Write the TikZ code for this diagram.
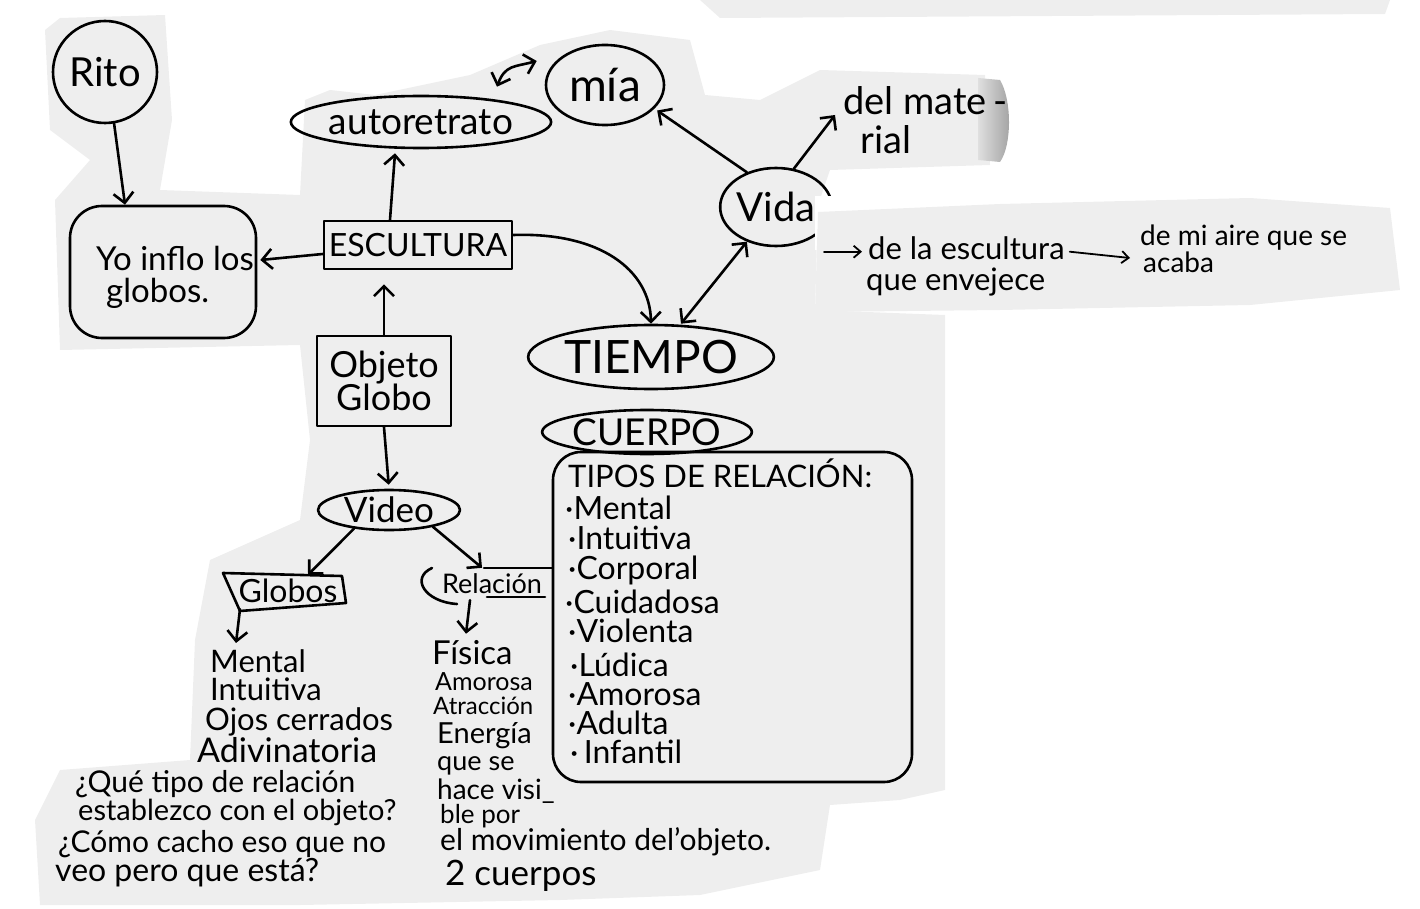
\documentclass[tikz,border=0pt]{standalone}
\usepackage{fontspec}
\setmainfont{Lato}
\usetikzlibrary{arrows.meta,shapes.geometric}
\definecolor{paper}{RGB}{238,238,238}
\begin{document}
\begin{tikzpicture}[x=1pt,y=-1pt,
 pen/.style={line width=2.6pt, line cap=round, line join=round},
 conn/.style={pen, -{Straight Barb[length=10pt,width=20pt]}},
 dconn/.style={pen, {Straight Barb[length=10pt,width=20pt]}-{Straight Barb[length=10pt,width=20pt]}},
 thinarr/.style={line width=1.8pt, line cap=round, -{Straight Barb[length=7pt,width=12pt]}},
 fs/.style={font=\fontsize{#1}{#1}\selectfont},
 t/.style={inner sep=0pt, anchor=base west, fs=#1},
 ell/.style={pen, draw, ellipse, inner sep=0pt},
 box/.style={pen, draw, rectangle, inner sep=0pt},
]
\useasboundingbox (0,0) rectangle (1420,909);
% paper
\fill[paper] (45,30) -- (60,18) -- (165,15) -- (172,120) -- (160,190) -- (300,195) -- (305,100) -- (330,90) -- (375,95) -- (470,75) -- (540,45) -- (610,30) -- (690,40) -- (705,95) -- (760,100) -- (800,80) -- (820,70) -- (985,75) -- (990,165) -- (830,170) -- (818,205) -- (815,310) -- (945,315) -- (945,790) -- (900,800) -- (830,805) -- (820,870) -- (700,895) -- (560,900) -- (300,905) -- (40,905) -- (35,820) -- (60,770) -- (190,760) -- (195,640) -- (210,560) -- (300,520) -- (310,440) -- (300,345) -- (60,350) -- (55,200) -- (90,160) -- (50,130) -- cycle;
\fill[paper] (700,0) -- (1390,0) -- (1385,14) -- (720,18) -- cycle;
\shade[left color=gray!25, right color=gray!75] (978,78) -- (1000,80) .. controls (1012,100) and (1012,145) .. (1000,162) -- (978,160) -- cycle;

% nodes
\node[ell, minimum width=104, minimum height=102, fs=40] (rito) at (105,72) {Rito};
\node[box, rounded corners=32pt, minimum width=186, minimum height=132] (yo) at (163,272) {};
\node[t=33] (yo1) at (96,270) {Yo inflo los};
\node[t=33] (yo2) at (106,302) {globos.};
\node[box, minimum width=188, minimum height=48, fs=32] (esc) at (418,245) {ESCULTURA};
\node[ell, minimum width=212, minimum height=52, fs=37] (auto) at (421,122) {autoretrato};
\node[ell, minimum width=118, minimum height=80, fs=46] (mia) at (605,85) {mía};
\node[t=38] (delmate) at (843,115) {del mate\,-};
\node[t=38] (rial) at (860,154) {rial};
\node[ell, minimum width=106, minimum height=78, fs=40] (vida) at (776,207) {Vida};
\node[ell, minimum width=198, minimum height=64, fs=46] (tiempo) at (651,357) {TIEMPO};
\node[ell, minimum width=176, minimum height=44, fs=37] (cuerpo) at (647,432) {CUERPO};
\node[box, minimum width=134, minimum height=90, align=center, fs=36] (obj) at (384,381) {Objeto\\[-3pt]Globo};
\node[ell, minimum width=142, minimum height=40, fs=35] (video) at (389,510) {Video};
\node[inner sep=0pt, minimum width=122, minimum height=36, fs=32] (globos) at (288,591) {Globos};
\node[inner sep=0pt, minimum width=110, minimum height=32, fs=27] (rel) at (492,584) {Relación};
\node[box, rounded corners=28pt, minimum width=359, minimum height=330] (tipos) at (732.5,617) {};

% strip patch
\fill[white] (815,196) rectangle (840,250);
\fill[paper] (818,212) -- (1000,204) -- (1250,198) -- (1390,208) -- (1400,290) -- (1250,305) -- (1000,310) -- (815,312) -- cycle;
\node[t=31] (dela) at (868,259) {de la escultura};
\node[t=31] (env) at (866,290) {que envejece};
\node[t=28] (demi) at (1140,246) {de mi aire que se};
\node[t=28] (acaba) at (1143,272) {acaba};
\coordinate (s0) at ([xshift=-44pt,yshift=-4pt]dela.west);
\draw[thinarr] (s0) -- ([xshift=-6pt,yshift=-4pt]dela.west);
\draw[thinarr] ([xshift=5pt,yshift=-4pt]dela.east) -- ([xshift=-10pt,yshift=-12pt]demi.base west);

% tipos list
\node[t=31] (tl0) at (568,487) {TIPOS DE RELACIÓN:};
\node[t=32] (tl1) at (565,519) {·Mental};
\node[t=32] (tl2) at (568,549) {·Intuitiva};
\node[t=32] (tl3) at (568,579) {·Corporal};
\node[t=32] (tl4) at (565,613) {·Cuidadosa};
\node[t=32] (tl5) at (568,642) {·Violenta};
\node[t=32] (tl6) at (570,676) {·Lúdica};
\node[t=32] (tl7) at (568,705) {·Amorosa};
\node[t=32] (tl8) at (568,734) {·Adulta};
\node[t=32] (tl9) at (570,763) {·\,Infantil};

% Globos column
\node[t=31] (m1) at (210,672) {Mental};
\node[t=31] (m2) at (210,700) {Intuitiva};
\node[t=31] (m3) at (205,730) {Ojos cerrados};
\node[t=34] (m4) at (197,762) {Adivinatoria};
\node[t=30] (q1) at (75,792) {¿Qué tipo de relación};
\node[t=29] (q2) at (78,820) {establezco con el objeto?};
\node[t=30] (q3) at (58,852) {¿Cómo cacho eso que no};
\node[t=32] (q4) at (55,881) {veo pero que está?};

% Relacion column
\node[t=33] (f1) at (432,664) {Física};
\node[t=25] (f2) at (435,690) {Amorosa};
\node[t=24] (f3) at (433,714) {Atracción};
\node[t=29] (f4) at (437,743) {Energía};
\node[t=27] (f5) at (437,770) {que se};
\node[t=28] (f6) at (437,799) {hace visi\_};
\node[t=26] (f7) at (440,823) {ble por};
\node[t=30] (f8) at (440,850) {el movimiento del'objeto.};
\node[t=35] (f9) at (445,885) {2 cuerpos};

% shapes drawn directly
\draw[pen] (223,573) -- (342,576) -- (346,603) -- (240,611) -- cycle;
\draw[pen] (432,568) .. controls (410,578) and (425,602) .. (457,604);
\draw[pen] ([xshift=-8pt]rel.north) -- (rel.north -| tipos.west);
\draw[pen] (487,597) -- (545,597);

% connectors
\draw[conn] (rito.-80) -- ([xshift=-38pt]yo.north);
\draw[conn] ([yshift=-9pt]esc.west) -- ([yshift=12pt,xshift=3pt]yo.east);
\draw[conn] ([xshift=-28pt]esc.north) -- ([xshift=-26pt,yshift=-4pt]auto.south);
\draw[dconn] ([shift={(76,-8)}]auto.north) .. controls +(8,-22) and +(-22,6) .. ([shift={(-8,-24)}]mia.west);
\draw[conn] (vida.130) -- ([shift={(10,-4)}]mia.-35);
\draw[conn] (vida.65) -- ([xshift=-8pt]delmate.base west);
\draw[conn] ([yshift=10pt]esc.east) .. controls (600,232) and (650,270) .. (tiempo.north);
\draw[dconn] (vida.-130) -- ([xshift=30pt]tiempo.north);
\draw[conn, shorten >=14pt] (obj.north) -- (esc.south -| obj.north);
\draw[conn, shorten >=4pt] (obj.south) -- (video.north);
\draw[conn] (video.-152) -- ([xshift=20pt,yshift=-2pt]globos.north);
\draw[conn] (video.-21) -- ([xshift=-10pt]rel.north);
\draw[conn] ([xshift=-22pt]rel.south) -- ([xshift=34pt,yshift=6pt]f1.north west);
\draw[conn] ([xshift=-48pt]globos.south) -- ([xshift=26pt,yshift=6pt]m1.north west);
\end{tikzpicture}
\end{document}
